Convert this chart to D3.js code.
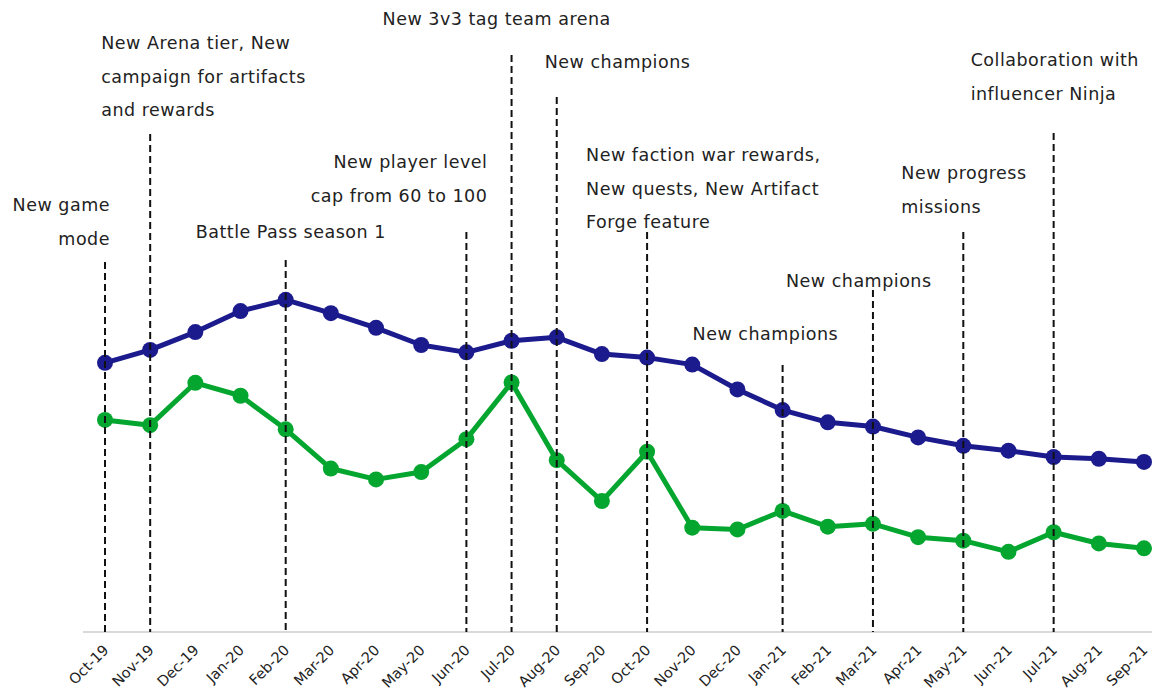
<!DOCTYPE html>
<html>
<head>
<meta charset="utf-8">
<script src="https://cdn.jsdelivr.net/npm/d3@7"></script>
<style>
  html, body { margin: 0; padding: 0; background: #fff; }
  svg { display: block; }
</style>
</head>
<body>
<svg id="chart" width="1152" height="695"></svg>
<script>
// ---- data ----
const months = ["Oct-19","Nov-19","Dec-19","Jan-20","Feb-20","Mar-20","Apr-20","May-20","Jun-20","Jul-20","Aug-20","Sep-20",
                "Oct-20","Nov-20","Dec-20","Jan-21","Feb-21","Mar-21","Apr-21","May-21","Jun-21","Jul-21","Aug-21","Sep-21"];
const seriesBlue  = [76.9,80.6,85.7,91.7,94.9,91.1,86.9,82.0,79.9,83.2,84.2,79.4,78.4,76.4,69.3,63.4,59.9,58.7,55.6,53.2,51.8,50.0,49.5,48.6];
const seriesGreen = [60.6,59.1,71.2,67.5,57.9,46.7,43.6,45.7,55.1,71.3,49.1,37.4,51.5,29.8,29.3,34.6,30.1,30.9,27.1,26.1,22.9,28.5,25.3,23.9];
const eventMonths = ["Oct-19","Nov-19","Feb-20","Jun-20","Jul-20","Aug-20","Oct-20","Jan-21","Mar-21","May-21","Jul-21"];
const eventTexts = [
  ["New game","mode"],
  ["New Arena tier, New","campaign for artifacts","and rewards"],
  ["Battle Pass season 1"],
  ["New player level","cap from 60 to 100"],
  ["New 3v3 tag team arena"],
  ["New champions"],
  ["New faction war rewards,","New quests, New Artifact","Forge feature"],
  ["New champions"],
  ["New champions"],
  ["New progress","missions"],
  ["Collaboration with","influencer Ninja"]
];

// ---- layout (styling, not data) ----
const W = 1152, H = 695;
const baseY = 632;
const eventLineTop = [262,134,260,232,55,97,232,365,290,232,133];
const labelDx     = [5,-49,-90,21,-129,-12,-61,-90,-87,-62,-83];
const labelAnchor = ["end","start","start","end","start","start","start","start","start","start","start"];
const labelY0     = [205,43,232,162,19,62,155,334,281,173,60];
const lineGap = 33.5;

const svg = d3.select("#chart");
const x = d3.scalePoint().domain(months).range([105, 1144]);
const y = d3.scaleLinear().domain([0, 100]).range([baseY, 282]);

const FONT = "'DejaVu Sans', sans-serif";

// x axis
const xAxis = d3.axisBottom(x).tickSize(0).tickPadding(0);
const gx = svg.append("g").attr("transform", `translate(0,${baseY})`).call(xAxis);
gx.select(".domain").remove();
gx.selectAll("text")
  .attr("font-family", FONT)
  .attr("font-size", 14.5)
  .attr("fill", "#222")
  .attr("text-anchor", "end")
  .attr("dy", null)
  .attr("y", 0)
  .attr("transform", "translate(4,19) rotate(-45)");
svg.append("line")
  .attr("x1", 83).attr("x2", W)
  .attr("y1", baseY).attr("y2", baseY)
  .attr("stroke", "#d9d9d9").attr("stroke-width", 2);

// series
const series = [
  {vals: seriesBlue, color: "#1b1b8d"},
  {vals: seriesGreen, color: "#04a62f"}
];
const line = d3.line().x((d,i) => x(months[i])).y(d => y(d));
series.forEach(s => {
  svg.append("path").datum(s.vals)
    .attr("d", line)
    .attr("fill", "none")
    .attr("stroke", s.color)
    .attr("stroke-width", 5)
    .attr("stroke-linejoin", "round");
  svg.append("g").selectAll("circle").data(s.vals).join("circle")
    .attr("cx", (d,i) => x(months[i]))
    .attr("cy", d => y(d))
    .attr("r", 8)
    .attr("fill", s.color);
});

// event dashed lines
eventMonths.forEach((m, i) => {
  svg.append("line")
    .attr("x1", x(m)).attr("x2", x(m))
    .attr("y1", eventLineTop[i]).attr("y2", baseY)
    .attr("stroke", "#111")
    .attr("stroke-width", 2)
    .attr("stroke-dasharray", "7,4");
});

// event labels
eventMonths.forEach((m, i) => {
  const t = svg.append("text")
    .attr("font-family", FONT)
    .attr("font-size", 17.5)
    .attr("letter-spacing", 0.5)
    .attr("fill", "#222")
    .attr("text-anchor", labelAnchor[i]);
  eventTexts[i].forEach((ln, j) => {
    t.append("tspan")
      .attr("x", x(m) + labelDx[i])
      .attr("y", labelY0[i] + j * lineGap)
      .attr("dy", "0.35em")
      .text(ln);
  });
});
</script>
</body>
</html>
